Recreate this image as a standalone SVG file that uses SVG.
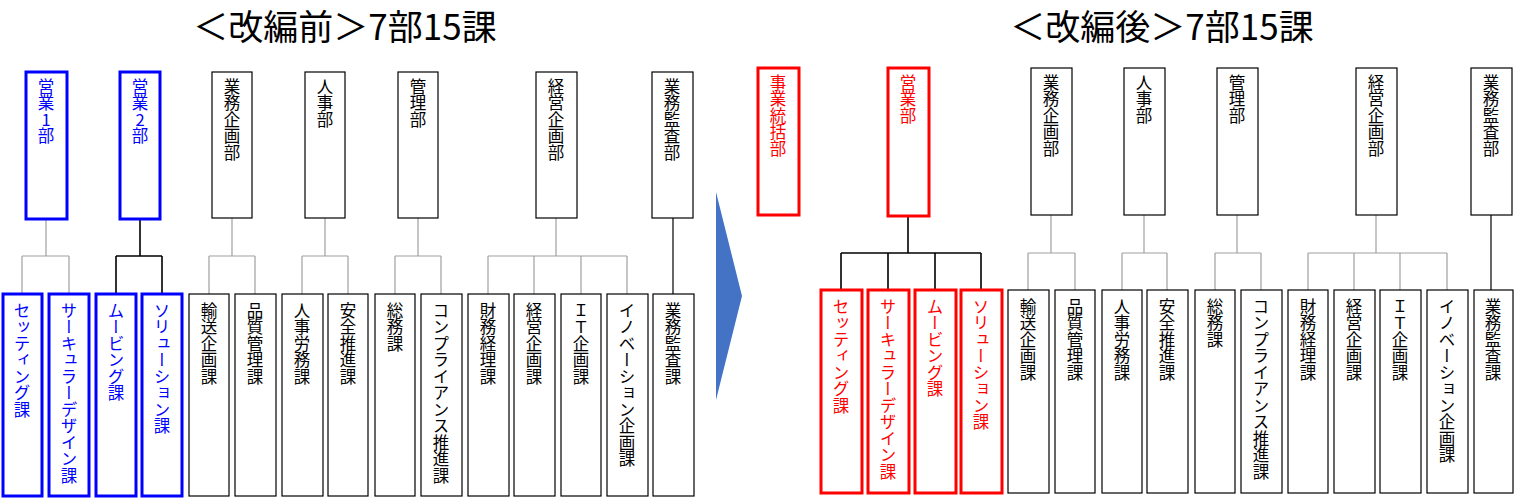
<svg xmlns="http://www.w3.org/2000/svg" width="1514" height="500" viewBox="0 0 1514 500">
<style>
text{font-family:"Noto Sans CJK JP","Noto Sans",sans-serif;}
.v{writing-mode:vertical-rl;text-orientation:upright;font-size:16.5px;text-anchor:start;}
.k rect{fill:#fff;stroke:#000;stroke-width:1.2}
.k text{fill:#000}
.b rect{fill:#fff;stroke:#0000ff;stroke-width:3}
.b text{fill:#0000ff}
.r rect{fill:#fff;stroke:#ff0000;stroke-width:3}
.r text{fill:#ff0000}
.g{fill:none;stroke:#a0a0a0;stroke-width:1.2}
.d{fill:none;stroke:#000;stroke-width:1.6}
.t{font-size:35px;fill:#000}
</style>
<text class="t" x="345" y="40" text-anchor="middle">＜改編前＞7部15課</text>
<text class="t" x="1162" y="40" text-anchor="middle">＜改編後＞7部15課</text>
<polygon points="716,192 742,296 716,400" fill="#4472c4"/>
<g id="connectors">
<path class="g" d="M46,219V256M22,256H69M22,256V294M69,256V294"/>
<path class="d" d="M140,219V256M116,256H162M116,256V294M162,256V294"/>
<path class="g" d="M232,218V256M209,256H255M209,256V294M255,256V294"/>
<path class="g" d="M325,218V256M302,256H348M302,256V294M348,256V294"/>
<path class="g" d="M418,218V256M395,256H441M395,256V294M441,256V294"/>
<path class="g" d="M556,218V256M488,256H627M488,256V294M534,256V294M581,256V294M627,256V294"/>
<path class="d" d="M673,218V294" style="stroke-width:1.2"/>
<path class="d" d="M908,216V253M841,253H981M841,253V290M888,253V290M935,253V290M981,253V290"/>
<path class="g" d="M1051,215V253M1028,253H1075M1028,253V290M1075,253V290"/>
<path class="g" d="M1144,215V253M1122,253H1167M1122,253V290M1167,253V290"/>
<path class="g" d="M1237,215V253M1215,253H1261M1215,253V290M1261,253V290"/>
<path class="g" d="M1376,215V253M1308,253H1447M1308,253V290M1354,253V290M1400,253V290M1447,253V290"/>
<path class="d" d="M1491,215V290" style="stroke-width:1.2"/>
</g>
<g id="p-eigyo1" class="b"><rect x="26" y="72" width="41" height="147"/><text class="v" x="46" y="78">営業1部</text></g>
<g id="p-eigyo2" class="b"><rect x="120" y="72" width="40" height="147"/><text class="v" x="140" y="78">営業2部</text></g>
<g id="p-gyomu" class="k"><rect x="212" y="72" width="40" height="146"/><text class="v" x="232" y="78">業務企画部</text></g>
<g id="p-jinji" class="k"><rect x="305" y="72" width="40" height="146"/><text class="v" x="325" y="78">人事部</text></g>
<g id="p-kanri" class="k"><rect x="398" y="72" width="40" height="146"/><text class="v" x="418" y="78">管理部</text></g>
<g id="p-keiei" class="k"><rect x="536" y="72" width="41" height="146"/><text class="v" x="556" y="78">経営企画部</text></g>
<g id="p-kansa" class="k"><rect x="652" y="72" width="41" height="146"/><text class="v" x="672" y="78">業務監査部</text></g>
<g id="c1" class="b"><rect x="3" y="294" width="39" height="202"/><text class="v" x="22" y="302">セッティング課</text></g>
<g id="c2" class="b"><rect x="49" y="294" width="40" height="202"/><text class="v" x="69" y="302">サーキュラーデザイン課</text></g>
<g id="c3" class="b"><rect x="96" y="294" width="40" height="202"/><text class="v" x="116" y="302">ムービング課</text></g>
<g id="c4" class="b"><rect x="142" y="294" width="40" height="202"/><text class="v" x="162" y="302">ソリューション課</text></g>
<g id="c5" class="k"><rect x="189" y="294" width="40" height="202"/><text class="v" x="209" y="302">輸送企画課</text></g>
<g id="c6" class="k"><rect x="235" y="294" width="41" height="202"/><text class="v" x="255" y="302">品質管理課</text></g>
<g id="c7" class="k"><rect x="282" y="294" width="41" height="202"/><text class="v" x="302" y="302">人事労務課</text></g>
<g id="c8" class="k"><rect x="328" y="294" width="40" height="202"/><text class="v" x="348" y="302">安全推進課</text></g>
<g id="c9" class="k"><rect x="375" y="294" width="40" height="202"/><text class="v" x="395" y="302">総務課</text></g>
<g id="c10" class="k"><rect x="421" y="294" width="41" height="202"/><text class="v" x="441" y="302">コンプライアンス推進課</text></g>
<g id="c11" class="k"><rect x="468" y="294" width="41" height="202"/><text class="v" x="488" y="302">財務経理課</text></g>
<g id="c12" class="k"><rect x="514" y="294" width="41" height="202"/><text class="v" x="534" y="302">経営企画課</text></g>
<g id="c13" class="k"><rect x="561" y="294" width="40" height="202"/><text class="v" x="581" y="302">ＩＴ企画課</text></g>
<g id="c14" class="k"><rect x="607" y="294" width="41" height="202"/><text class="v" x="627" y="302">イノベーション企画課</text></g>
<g id="c15" class="k"><rect x="653" y="294" width="41" height="202"/><text class="v" x="673" y="302">業務監査課</text></g>
<g id="n-jigyo" class="r"><rect x="758" y="68" width="41" height="147"/><text class="v" x="778" y="74">事業統括部</text></g>
<g id="n-eigyo" class="r"><rect x="888" y="68" width="41" height="148"/><text class="v" x="908" y="74">営業部</text></g>
<g id="n-gyomu" class="k"><rect x="1031" y="68" width="41" height="147"/><text class="v" x="1051" y="74">業務企画部</text></g>
<g id="n-jinji" class="k"><rect x="1124" y="68" width="41" height="147"/><text class="v" x="1144" y="74">人事部</text></g>
<g id="n-kanri" class="k"><rect x="1217" y="68" width="41" height="147"/><text class="v" x="1237" y="74">管理部</text></g>
<g id="n-keiei" class="k"><rect x="1356" y="68" width="41" height="147"/><text class="v" x="1376" y="74">経営企画部</text></g>
<g id="n-kansa" class="k"><rect x="1471" y="68" width="41" height="147"/><text class="v" x="1491" y="74">業務監査部</text></g>
<g id="d1" class="r"><rect x="821" y="290" width="41" height="203"/><text class="v" x="841" y="298">セッティング課</text></g>
<g id="d2" class="r"><rect x="868" y="290" width="41" height="203"/><text class="v" x="888" y="298">サーキュラーデザイン課</text></g>
<g id="d3" class="r"><rect x="915" y="290" width="41" height="203"/><text class="v" x="935" y="298">ムービング課</text></g>
<g id="d4" class="r"><rect x="961" y="290" width="41" height="203"/><text class="v" x="981" y="298">ソリューション課</text></g>
<g id="d5" class="k"><rect x="1008" y="290" width="41" height="203"/><text class="v" x="1028" y="298">輸送企画課</text></g>
<g id="d6" class="k"><rect x="1055" y="290" width="40" height="203"/><text class="v" x="1075" y="298">品質管理課</text></g>
<g id="d7" class="k"><rect x="1102" y="290" width="40" height="203"/><text class="v" x="1122" y="298">人事労務課</text></g>
<g id="d8" class="k"><rect x="1147" y="290" width="41" height="203"/><text class="v" x="1167" y="298">安全推進課</text></g>
<g id="d9" class="k"><rect x="1195" y="290" width="40" height="203"/><text class="v" x="1215" y="298">総務課</text></g>
<g id="d10" class="k"><rect x="1241" y="290" width="41" height="203"/><text class="v" x="1261" y="298">コンプライアンス推進課</text></g>
<g id="d11" class="k"><rect x="1288" y="290" width="40" height="203"/><text class="v" x="1308" y="298">財務経理課</text></g>
<g id="d12" class="k"><rect x="1334" y="290" width="41" height="203"/><text class="v" x="1354" y="298">経営企画課</text></g>
<g id="d13" class="k"><rect x="1380" y="290" width="41" height="203"/><text class="v" x="1400" y="298">ＩＴ企画課</text></g>
<g id="d14" class="k"><rect x="1427" y="290" width="41" height="203"/><text class="v" x="1447" y="298">イノベーション企画課</text></g>
<g id="d15" class="k"><rect x="1474" y="290" width="39" height="203"/><text class="v" x="1493" y="298">業務監査課</text></g>
</svg>
